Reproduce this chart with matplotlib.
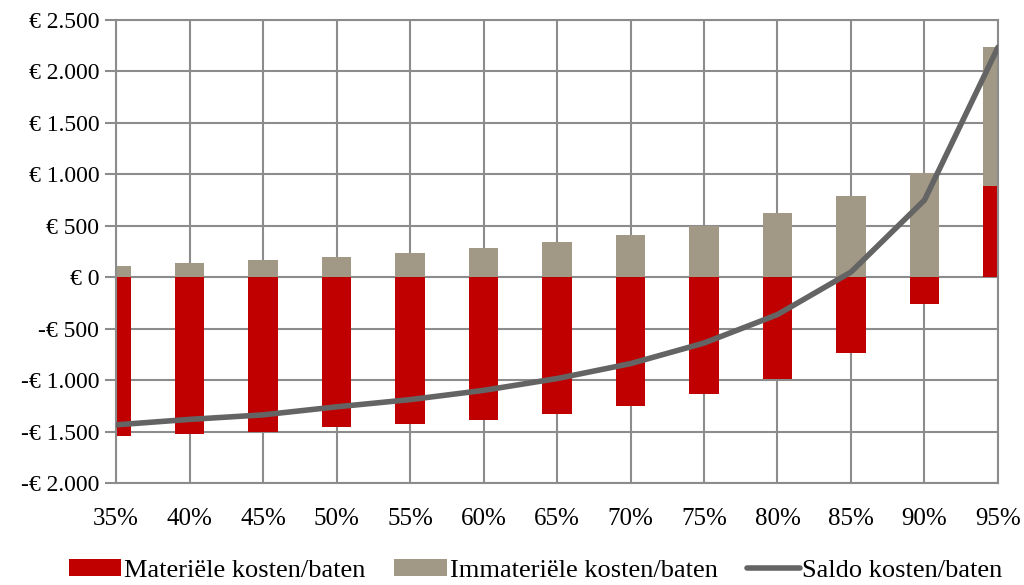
import numpy as np
import matplotlib.pyplot as plt
from matplotlib.ticker import FuncFormatter

# percentages on the x axis
pct = [35, 40, 45, 50, 55, 60, 65, 70, 75, 80, 85, 90, 95]
# material and immaterial costs/benefits (euro)
materieel = [-1545, -1522, -1503, -1460, -1430, -1385, -1325, -1250, -1140, -988, -735, -265, 890]
immaterieel = [110, 140, 165, 200, 240, 285, 340, 410, 500, 625, 785, 1015, 1345]

mat = np.array(materieel)
imm = np.array(immaterieel)
saldo = mat + imm

plt.rcParams['font.family'] = ['Liberation Serif', 'DejaVu Serif']

fig = plt.figure(figsize=(10.24, 5.85), dpi=100)
ax = fig.add_axes([0.1133, 0.1744, 0.8613, 0.7914])

grid = '#8c8c8c'
b1 = ax.bar(pct, mat, width=2.0, color='#C00000', zorder=2)
b2 = ax.bar(pct, imm, width=2.0, bottom=np.maximum(mat, 0), color='#A19985', zorder=2)
ln, = ax.plot(pct, saldo, color='#646464', linewidth=4, zorder=3, solid_capstyle='round')

ax.set_xlim(35, 95)
ax.set_ylim(-2000, 2500)
ax.set_xticks(pct)
ax.set_xticklabels([f'{p}%' for p in pct])
ax.set_yticks(np.arange(-2000, 2501, 500))


def euro(v, pos):
    s = f'{abs(int(v)):,}'.replace(',', '.')
    return f'-€ {s}' if v < 0 else f'€ {s}'


ax.yaxis.set_major_formatter(FuncFormatter(euro))
ax.grid(True, color=grid, linewidth=1.5, zorder=0)
ax.set_axisbelow(True)
for sp in ax.spines.values():
    sp.set_color(grid)
    sp.set_linewidth(1.5)
ax.tick_params(axis='y', length=8, width=1.5, color=grid, labelsize=17, pad=4)
ax.tick_params(axis='x', length=0, labelsize=18, pad=18)

fig.legend([b1, b2, ln],
           ['Materiële kosten/baten', 'Immateriële kosten/baten', 'Saldo kosten/baten'],
           loc='lower center', bbox_to_anchor=(0.523, -0.035), ncol=3, frameon=False,
           fontsize=19, handlelength=2.0, handleheight=0.6, handletextpad=0.1,
           columnspacing=1.1)

fig.savefig('out.png', dpi=100)
